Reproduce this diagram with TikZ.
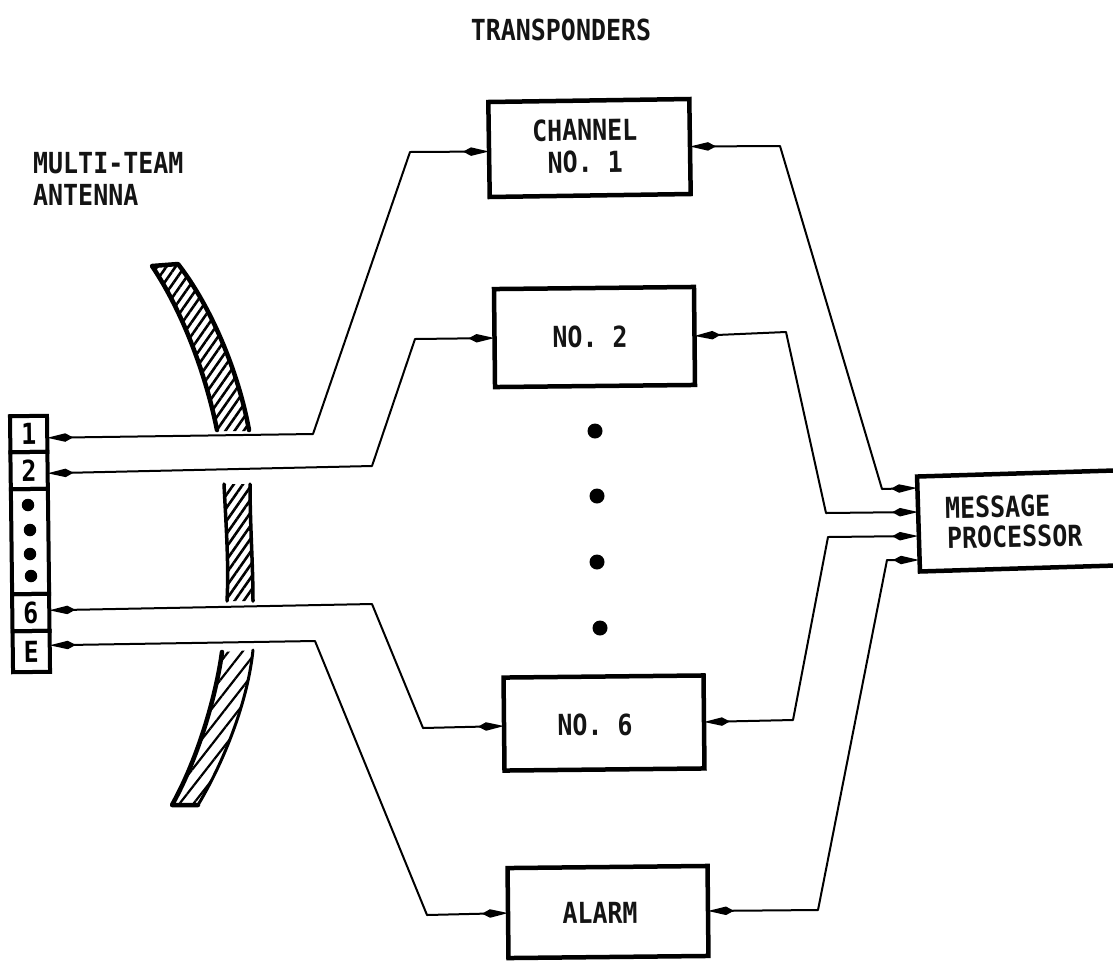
\documentclass[tikz,border=0pt]{standalone}
\usepackage{fontspec}
\setmainfont[FakeStretch=0.86]{DejaVu Sans Mono}
\usetikzlibrary{arrows.meta,patterns.meta}
\tikzset{
  x=1pt,y=-1pt,
  lbl/.style={inner sep=0pt,font=\fontsize{29}{32}\selectfont\bfseries,align=center,text=black!92},
  ltxt/.style={lbl,align=left,anchor=west},
  boxthick/.style={draw=black,line width=4.5pt,rectangle,inner sep=0pt,outer sep=0pt,minimum width=#1},
  cell/.style={draw=black,line width=4pt,rectangle,inner sep=0pt,outer sep=0pt,minimum width=37pt,rotate=0.7,font=\fontsize{29}{30}\selectfont\bfseries},
  bigdot/.style={circle,fill=black,inner sep=0pt,minimum size=15pt},
  smalldot/.style={circle,fill=black,inner sep=0pt,minimum size=12.5pt},
  link/.style={draw=black,line width=2pt,line join=round,{Kite[length=26pt,width=8.5pt,inset=8pt]}-{Kite[length=26pt,width=8.5pt,inset=8pt]}},
  refl/.style={draw=black,line width=#1,line cap=round,line join=round},
  hatchA/.style={pattern={Lines[angle=55,distance=7.5pt,line width=2.6pt]},pattern color=black},
  hatchB/.style={pattern={Lines[angle=52,distance=11pt,line width=2.2pt]},pattern color=black}
}
\begin{document}
\begin{tikzpicture}
\clip (0,0) rectangle (1113,962);
\fill[white] (0,0) rectangle (1113,962);

% reflector, three pieces
\fill[hatchA] (152,266) -- (178,264) .. controls (210,305) and (238,370) .. (248,431) -- (217,431) .. controls (207,380) and (185,315) .. (152,266) -- cycle;
\draw[refl=4.5pt] (217,430) .. controls (207,380) and (185,315) .. (152,266) -- (178,264) .. controls (210,305) and (238,370) .. (249,430);
\fill[hatchA] (224,484) .. controls (226,525) and (229,565) .. (227,601) -- (253,601) .. controls (253,565) and (250,525) .. (250,484) -- cycle;
\draw[refl=3.5pt] (224,484) .. controls (226,525) and (229,565) .. (227,601);
\draw[refl=3.5pt] (250,484) .. controls (250,525) and (253,565) .. (253,601);
\fill[hatchB] (222,652) .. controls (217,690) and (200,755) .. (172,805) -- (198,805) .. controls (225,760) and (248,700) .. (253,650) -- cycle;
\draw[refl=4.5pt] (222,652) .. controls (217,690) and (200,755) .. (172,805) -- (198,805);
\draw[refl=3pt] (198,805) .. controls (225,760) and (248,700) .. (253,650);

% feed array
\node[cell,minimum height=36pt] (c1) at (28.7,434) {1};
\node[cell,minimum height=37pt] (c2) at (29.1,470.5) {2};
\node[cell,minimum height=105pt] (cd) at (30,541.5) {};
\node[cell,minimum height=37pt] (c6) at (30.8,612.5) {6};
\node[cell,minimum height=41pt] (cE) at (31.3,651.5) {E};
\node[smalldot] (fd1) at (28,505) {};
\node[smalldot] (fd2) at (30,530) {};
\node[smalldot] (fd3) at (30,554) {};
\node[smalldot] (fd4) at (31,576) {};

% transponder boxes
\node[boxthick=201pt,minimum height=95pt,rotate=0.85] (ch1) at (589.5,148) {};
\node[boxthick=200pt,minimum height=98pt,rotate=0.6] (no2) at (594.5,337) {};
\node[boxthick=200pt,minimum height=93pt,rotate=0.6] (no6) at (604,723) {};
\node[boxthick=200pt,minimum height=90pt,rotate=0.6] (alarm) at (608,912) {};
\node[boxthick=240pt,minimum height=95pt,rotate=1.75,anchor=west] (msg) at (918.5,524) {};

% labels
\node[lbl] (ttr) at (561,30) {TRANSPONDERS};
\node[ltxt] (tm1) at (33,163) {MULTI-TEAM};
\node[ltxt] (tm2) at (33,195) {ANTENNA};
\node[lbl,rotate=0.85] (tch) at (585,146) {CHANNEL\\NO. 1};
\node[lbl,rotate=0.6] (t2) at (590,337) {NO. 2};
\node[lbl,rotate=0.6] (t6) at (595,725) {NO. 6};
\node[lbl,rotate=0.6] (ta) at (600,913) {ALARM};
\node[lbl,rotate=1.2,anchor=west] (tm) at (945,508) {MESSAGE};
\node[lbl,rotate=1.2,anchor=west] (tp) at (947,538) {PROCESSOR};

% dots
\node[bigdot] (d1) at (595,431) {};
\node[bigdot] (d2) at (597,496) {};
\node[bigdot] (d3) at (597,562) {};
\node[bigdot] (d4) at (600,628) {};

% message processor ports
\coordinate (m1) at (917,488);
\coordinate (m2) at (918,512);
\coordinate (m3) at (918,536);
\coordinate (m4) at (919,560);

% connectors
\draw[link] ([yshift=-4pt]c1.east) -- (313,434) -- (410,152) -- ([yshift=-2pt]ch1.west);
\draw[link] ([yshift=-3pt]c2.east) -- (372,466) -- (415,339) -- (no2.west);
\draw[link] ([yshift=2pt]c6.east) -- (372,604) -- (423,728) -- ([yshift=-2pt]no6.west);
\draw[link] ([yshift=6pt]cE.east) -- (315,641) -- (427,915) -- (alarm.west);
\draw[link] (ch1.east) -- (780,146) -- (882,489) -- (m1);
\draw[link] (no2.east) -- (786,332) -- (826,513) -- (m2);
\draw[link] (no6.east) -- (793,720) -- (828,537) -- (m3);
\draw[link] (alarm.east) -- (818,910) -- (887,560) -- (m4);
\end{tikzpicture}
\end{document}
